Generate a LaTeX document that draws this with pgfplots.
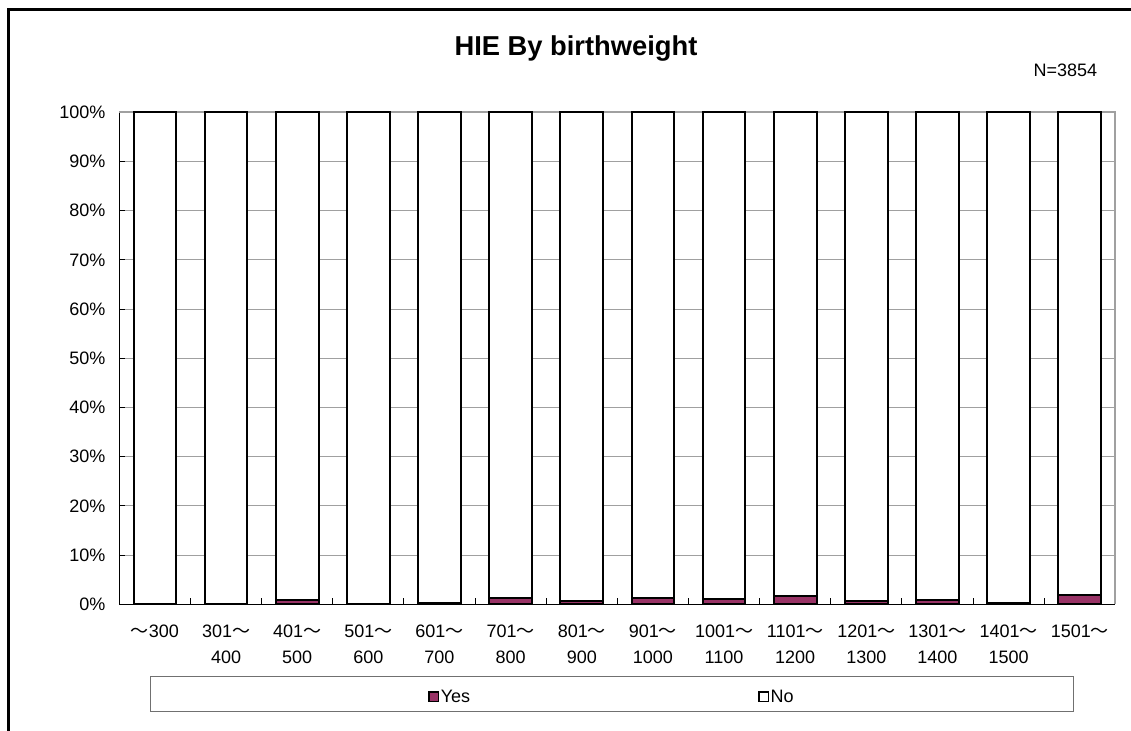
\documentclass[border=0pt]{standalone}
\usepackage{pgfplots}
\pgfplotsset{compat=1.18}
\usepackage{fontspec}
\setmainfont{Liberation Sans}
\newfontfamily\cjk{Noto Sans CJK JP}
\newcommand{\tl}{{\cjk ～}}
\definecolor{yesc}{HTML}{993366}
\definecolor{gridc}{HTML}{A0A0A0}
\begin{document}
\begin{tikzpicture}
\path[use as bounding box] (0,0) rectangle (848.25pt,548.25pt);
\draw[line width=2.25pt] (6.4pt,-5pt) -- (6.4pt,540.75pt) -- (860pt,540.75pt);
\node[font=\bfseries\fontsize{20.5}{22}\selectfont, anchor=base, inner sep=0pt] at (432pt,506.25pt) {HIE By birthweight};
\node[font=\fontsize{13.5}{15}\selectfont, anchor=base east, inner sep=0pt] at (823pt,490.7pt) {N=3854};
\draw[gridc!70!black, line width=0.75pt] (112.5pt,14.25pt) rectangle (804.75pt,40.5pt);
\begin{axis}[
  at={(89.5pt,95pt)}, anchor=south west,
  scale only axis, width=747pt, height=369pt,
  ybar stacked, bar width=32pt,
  xmin=-0.5, xmax=13.5, ymin=0, ymax=100,
  clip=false,
  axis line style={draw=none},
  tick pos=left,
  ytick={0,10,...,100},
  yticklabels={0\%,10\%,20\%,30\%,40\%,50\%,60\%,70\%,80\%,90\%,100\%},
  ymajorgrids, grid style={gridc, line width=0.75pt},
  tick align=inside, major tick length=4.5pt,
  tick style={black, line width=0.75pt},
  xtick={0.5,1.5,...,12.5}, xticklabels={},
  extra x ticks={0,...,13},
  extra x tick labels={\tl300,301\tl\\400,401\tl\\500,501\tl\\600,601\tl\\700,701\tl\\800,801\tl\\900,901\tl\\1000,1001\tl\\1100,1101\tl\\1200,1201\tl\\1300,1301\tl\\1400,1401\tl\\1500,1501\tl},
  extra x tick style={tick style={draw=none}, grid=none},
  xticklabel style={align=center, font=\fontsize{13.5}{19.5}\selectfont, yshift=-12pt},
  yticklabel style={font=\fontsize{13.5}{15}\selectfont, xshift=-7pt},
  legend style={draw=none, fill=none, at={(0.31,-0.188)}, anchor=west, inner sep=0pt,
    legend columns=2, font=\fontsize{13.5}{15}\selectfont,
    /tikz/every even column/.append style={column sep=215pt},
    nodes={inner xsep=1pt}},
  legend image code/.code={\draw[#1, line width=1.1pt] (0pt,-3.6pt) rectangle (7.2pt,3.6pt);},
]
\addplot[fill=yesc, draw=black, line width=1.5pt] coordinates {
(0,0) (1,0) (2,0.8) (3,0) (4,0.3) (5,1.2) (6,0.7) (7,1.3) (8,1.0) (9,1.6) (10,0.7) (11,0.9) (12,0.3) (13,1.8)};
\addplot[fill=white, draw=black, line width=1.5pt] coordinates {
(0,100) (1,100) (2,99.2) (3,100) (4,99.7) (5,98.8) (6,99.3) (7,98.7) (8,99.0) (9,98.4) (10,99.3) (11,99.1) (12,99.7) (13,98.2)};
\legend{Yes,No}
\draw[gridc, line width=1.5pt] (rel axis cs:0,1) -- (rel axis cs:1,1) -- (rel axis cs:1,0);
\draw[black, line width=0.75pt] (rel axis cs:0,1) -- (rel axis cs:0,0) -- (rel axis cs:1,0);
\end{axis}
\end{tikzpicture}
\end{document}
